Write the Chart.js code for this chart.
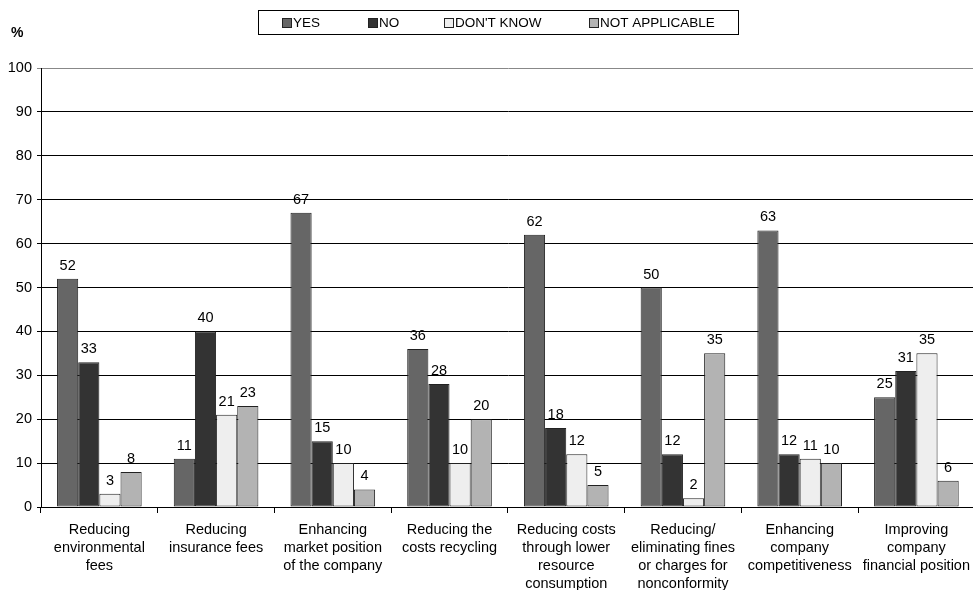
<!DOCTYPE html>
<html><head><meta charset="utf-8">
<script src="https://cdn.jsdelivr.net/npm/chart.js@4"></script>
<style>html,body{margin:0;padding:0;background:#fff;overflow:hidden}#wrap{width:973px;height:590px;overflow:hidden}</style>
</head><body><div id="wrap"><canvas id="c" width="978" height="590"></canvas></div>
<script>
const categories = [
  ["Reducing","environmental","fees"],
  ["Reducing","insurance fees"],
  ["Enhancing","market position","of the company"],
  ["Reducing the","costs recycling"],
  ["Reducing costs","through lower","resource","consumption"],
  ["Reducing/","eliminating fines","or charges for","nonconformity"],
  ["Enhancing","company","competitiveness"],
  ["Improving","company","financial position"]
];
const seriesNames = ["YES","NO","DON'T KNOW","NOT APPLICABLE"];
const yesValues = [52,11,67,36,62,50,63,25];
const noValues = [33,40,15,28,18,12,12,31];
const dontKnowValues = [3,21,10,10,12,2,11,35];
const notApplicableValues = [8,23,4,20,5,35,10,6];
const yTicks = [0,10,20,30,40,50,60,70,80,90,100];
const colors = ["#666666","#333333","#eeeeee","#b3b3b3"];
const FONT = "'Liberation Sans', Arial, sans-serif";

const labelPlugin = {
  id:'vals',
  afterDatasetsDraw(chart){
    const ctx = chart.ctx;
    ctx.save();
    ctx.font = "14.5px " + FONT;
    ctx.fillStyle = "#000";
    ctx.textAlign = "center";
    ctx.textBaseline = "alphabetic";
    chart.data.datasets.forEach((ds,i)=>{
      chart.getDatasetMeta(i).data.forEach((el,j)=>{
        ctx.fillText(String(ds.data[j]), el.x, el.y - 9);
      });
    });
    ctx.restore();
  }
};
const decoPlugin = {
  id:'deco',
  afterDraw(chart){
    const ctx = chart.ctx;
    ctx.save();
    ctx.font = "bold 14px " + FONT;
    ctx.fillStyle = "#000";
    ctx.textAlign = "left";
    ctx.textBaseline = "middle";
    ctx.fillText("%", 11, 33);
    ctx.strokeStyle = "#000";
    ctx.lineWidth = 1;
    ctx.strokeRect(258.5, 10.5, 480, 24);
    const xs = [282, 368, 444, 589];
    ctx.font = "13.5px " + FONT;
    seriesNames.forEach((n,i)=>{
      ctx.fillStyle = colors[i];
      ctx.fillRect(xs[i]+0.5, 18.5, 9, 9);
      ctx.strokeStyle = "#222";
      ctx.strokeRect(xs[i]+0.5, 18.5, 9, 9);
      ctx.fillStyle = "#000";
      ctx.fillText(n, xs[i]+11, 23.5);
    });
    ctx.restore();
  }
};

const mk = (i, data) => ({
  label: seriesNames[i], data, backgroundColor: colors[i],
  borderColor: "#222", borderWidth: 1, borderSkipped: false,
  categoryPercentage: 0.725, barPercentage: 1.0
});

new Chart(document.getElementById('c'), {
  type:'bar',
  data:{ labels: categories, datasets:[
    mk(0,yesValues), mk(1,noValues), mk(2,dontKnowValues), mk(3,notApplicableValues)
  ]},
  options:{
    responsive:false, animation:false, devicePixelRatio:1,
    layout:{ padding:{ top:68, right:0, left:0, bottom:0 } },
    plugins:{ legend:{display:false}, tooltip:{enabled:false} },
    scales:{
      x:{
        offset:true,
        afterFit(s){ s.height = 83; },
        grid:{ display:true, drawOnChartArea:false, tickLength:6, color:"#000", offset:true },
        border:{ color:"#000", width:1 },
        ticks:{ color:"#000", font:{ family:FONT, size:14.5, lineHeight:1.24 }, maxRotation:0, autoSkip:false, padding:8 }
      },
      y:{
        min:0, max:100,
        afterFit(s){ s.width = 41; },
        afterBuildTicks(s){ s.ticks = yTicks.map(v=>({value:v})); },
        grid:{ color:(c)=> c.tick && c.tick.value===100 ? "#888" : "#000", tickLength:4, lineWidth:1 },
        border:{ color:"#000", width:1 },
        ticks:{ color:"#000", font:{ family:FONT, size:14.5 }, padding:5 }
      }
    }
  },
  plugins:[labelPlugin, decoPlugin]
});
</script></body></html>
